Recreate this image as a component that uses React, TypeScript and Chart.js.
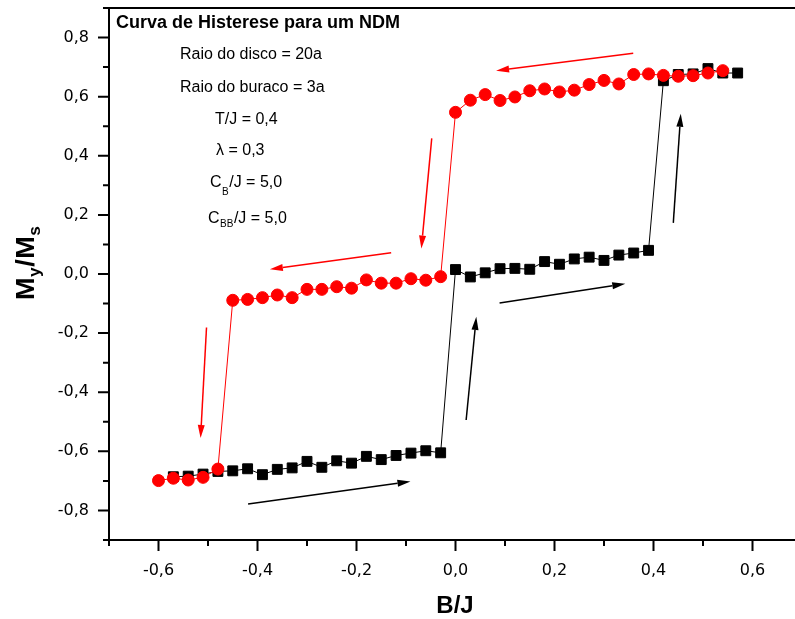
import React, { useEffect, useRef } from 'react';
import { Chart, registerables } from 'chart.js';

Chart.register(...registerables);

// Increasing field branch (black squares)
const upX = [
  -0.57, -0.54, -0.51, -0.48, -0.45, -0.42, -0.39, -0.36, -0.33, -0.30,
  -0.27, -0.24, -0.21, -0.18, -0.15, -0.12, -0.09, -0.06, -0.03, 0.00,
  0.03, 0.06, 0.09, 0.12, 0.15, 0.18, 0.21, 0.24, 0.27, 0.30,
  0.33, 0.36, 0.39, 0.42, 0.45, 0.48, 0.51, 0.54, 0.57,
];
const upY = [
  -0.686, -0.684, -0.677, -0.668, -0.666, -0.659, -0.679, -0.661, -0.656, -0.634,
  -0.654, -0.632, -0.640, -0.617, -0.628, -0.614, -0.606, -0.598, -0.605, 0.015,
  -0.010, 0.004, 0.018, 0.019, 0.016, 0.042, 0.033, 0.051, 0.057, 0.046,
  0.064, 0.071, 0.080, 0.654, 0.675, 0.677, 0.695, 0.680, 0.680,
];

// Decreasing field branch (red circles)
const downX = [
  0.54, 0.51, 0.48, 0.45, 0.42, 0.39, 0.36, 0.33, 0.30, 0.27,
  0.24, 0.21, 0.18, 0.15, 0.12, 0.09, 0.06, 0.03, 0.00, -0.03,
  -0.06, -0.09, -0.12, -0.15, -0.18, -0.21, -0.24, -0.27, -0.30, -0.33,
  -0.36, -0.39, -0.42, -0.45, -0.48, -0.51, -0.54, -0.57, -0.60,
];
const downY = [
  0.688, 0.680, 0.671, 0.669, 0.672, 0.677, 0.675, 0.643, 0.655, 0.641,
  0.622, 0.616, 0.626, 0.620, 0.599, 0.587, 0.607, 0.588, 0.547, -0.009,
  -0.021, -0.016, -0.031, -0.031, -0.020, -0.048, -0.043, -0.052, -0.052, -0.080,
  -0.071, -0.080, -0.086, -0.089, -0.660, -0.688, -0.697, -0.691, -0.699,
];

// Tick labels (major ticks)
const xTickValues = [-0.6, -0.4, -0.2, 0.0, 0.2, 0.4, 0.6];
const xTickLabels = ['-0,6', '-0,4', '-0,2', '0,0', '0,2', '0,4', '0,6'];
const yTickValues = [-0.8, -0.6, -0.4, -0.2, 0.0, 0.2, 0.4, 0.6, 0.8];
const yTickLabels = ['-0,8', '-0,6', '-0,4', '-0,2', '0,0', '0,2', '0,4', '0,6', '0,8'];

// Direction arrows in data coordinates: [x1, y1, x2, y2]
const redArrows = [
  [0.359, 0.747, 0.082, 0.688],
  [-0.048, 0.459, -0.069, 0.086],
  [-0.130, 0.072, -0.375, 0.016],
  [-0.503, -0.181, -0.515, -0.555],
];
const blackArrows = [
  [-0.419, -0.778, -0.091, -0.702],
  [0.0215, -0.494, 0.042, -0.145],
  [0.089, -0.098, 0.343, -0.033],
  [0.440, 0.173, 0.455, 0.542],
];

const SANS = '"Liberation Sans", Arial, sans-serif';

function lookup(values: number[], labels: string[], v: number) {
  for (let i = 0; i < values.length; i++) {
    if (Math.abs(values[i] - v) < 1e-6) return labels[i];
  }
  return '';
}

function drawArrow(ctx: CanvasRenderingContext2D, x1: number, y1: number, x2: number, y2: number, color: string) {
  const ang = Math.atan2(y2 - y1, x2 - x1);
  const L = 13;
  const W = 3.5;
  const bx = x2 - L * Math.cos(ang);
  const by = y2 - L * Math.sin(ang);
  ctx.strokeStyle = color;
  ctx.fillStyle = color;
  ctx.lineWidth = 1.5;
  ctx.beginPath();
  ctx.moveTo(x1, y1);
  ctx.lineTo(bx, by);
  ctx.stroke();
  ctx.beginPath();
  ctx.moveTo(x2, y2);
  ctx.lineTo(bx + W * Math.sin(ang), by - W * Math.cos(ang));
  ctx.lineTo(bx - W * Math.sin(ang), by + W * Math.cos(ang));
  ctx.closePath();
  ctx.fill();
}

const decorPlugin = {
  id: 'decor',
  afterDraw(chart: any) {
    const ctx: CanvasRenderingContext2D = chart.ctx;
    const { left, right, top, bottom } = chart.chartArea;
    const xs = chart.scales.x;
    const ys = chart.scales.y;
    ctx.save();
    // frame
    ctx.strokeStyle = '#000';
    ctx.lineWidth = 2;
    ctx.strokeRect(left, top, right - left, bottom - top);
    // tick marks
    ctx.lineWidth = 2;
    ctx.beginPath();
    xs.ticks.forEach((t: any) => {
      const k = Math.round(t.value * 10);
      const len = k % 2 === 0 ? 11 : 6;
      const px = xs.getPixelForValue(t.value);
      ctx.moveTo(px, bottom);
      ctx.lineTo(px, bottom + len);
    });
    ys.ticks.forEach((t: any) => {
      const k = Math.round(t.value * 10);
      const len = k % 2 === 0 ? 11 : 6;
      const py = ys.getPixelForValue(t.value);
      ctx.moveTo(left, py);
      ctx.lineTo(left - len, py);
    });
    ctx.stroke();

    // arrows
    redArrows.forEach((a) => {
      drawArrow(ctx, xs.getPixelForValue(a[0]), ys.getPixelForValue(a[1]), xs.getPixelForValue(a[2]), ys.getPixelForValue(a[3]), '#ff0000');
    });
    blackArrows.forEach((a) => {
      drawArrow(ctx, xs.getPixelForValue(a[0]), ys.getPixelForValue(a[1]), xs.getPixelForValue(a[2]), ys.getPixelForValue(a[3]), '#000000');
    });

    // annotation text
    ctx.fillStyle = '#000';
    ctx.textAlign = 'left';
    ctx.textBaseline = 'alphabetic';
    ctx.font = `bold 18px ${SANS}`;
    ctx.fillText('Curva de Histerese para um NDM', 116, 28);
    ctx.font = `16px ${SANS}`;
    ctx.fillText('Raio do disco = 20a', 180, 59);
    ctx.fillText('Raio do buraco = 3a', 180, 92);
    ctx.fillText('T/J = 0,4', 215, 124);
    ctx.fillText('\u03bb = 0,3', 216, 155);
    // C_B/J
    ctx.fillText('C', 210, 187);
    let w = ctx.measureText('C').width;
    ctx.font = `10px ${SANS}`;
    ctx.fillText('B', 210 + w + 0.5, 195);
    let wb = ctx.measureText('B').width;
    ctx.font = `16px ${SANS}`;
    ctx.fillText('/J = 5,0', 210 + w + wb + 1, 187);
    // C_BB/J
    ctx.fillText('C', 208, 222.5);
    w = ctx.measureText('C').width;
    ctx.font = `10px ${SANS}`;
    ctx.fillText('BB', 208 + w + 0.5, 227);
    wb = ctx.measureText('BB').width;
    ctx.font = `16px ${SANS}`;
    ctx.fillText('/J = 5,0', 208 + w + wb + 1, 222.5);

    // x title
    ctx.font = `bold 24px ${SANS}`;
    ctx.textAlign = 'center';
    ctx.fillText('B/J', (left + right) / 2 - 0.5, 613);

    // y title (rotated, with subscripts)
    ctx.save();
    ctx.translate(33.5, 300);
    ctx.rotate(-Math.PI / 2);
    ctx.scale(1.08, 1);
    ctx.textAlign = 'left';
    const parts: [string, number, number][] = [
      ['M', 0, 25],
      ['y', 6, 16],
      ['/', 0, 25],
      ['M', 0, 25],
      ['s', 6, 16],
    ];
    let u = 0;
    parts.forEach(([s, dy, size]) => {
      ctx.font = `bold ${size}px ${SANS}`;
      ctx.fillText(s, u, dy);
      u += ctx.measureText(s).width + 0.5;
    });
    ctx.restore();

    ctx.restore();
  },
};

export default function App() {
  const ref = useRef<HTMLCanvasElement | null>(null);

  useEffect(() => {
    if (!ref.current) return;
    const chart = new Chart(ref.current, {
      type: 'scatter',
      data: {
        datasets: [
          {
            label: 'decrescente',
            data: downX.map((x, i) => ({ x, y: downY[i] })),
            showLine: true,
            borderColor: '#ff0000',
            borderWidth: 1,
            backgroundColor: '#ff0000',
            pointStyle: 'circle',
            pointRadius: 6,
            pointBorderWidth: 1,
            pointBorderColor: '#ff0000',
            pointBackgroundColor: '#ff0000',
          },
          {
            label: 'crescente',
            data: upX.map((x, i) => ({ x, y: upY[i] })),
            showLine: true,
            borderColor: '#000000',
            borderWidth: 1,
            backgroundColor: '#000000',
            pointStyle: 'rect',
            pointRadius: 7,
            pointBorderWidth: 1,
            pointBorderColor: '#000000',
            pointBackgroundColor: '#000000',
          },
        ],
      },
      options: {
        responsive: false,
        animation: false,
        events: [],
        layout: { padding: { top: 7.5, right: 7, left: 0, bottom: 0 } },
        plugins: {
          legend: { display: false },
          tooltip: { enabled: false },
        },
        scales: {
          x: {
            type: 'linear',
            min: -0.7,
            max: 0.7,
            border: { display: false },
            grid: { display: false, drawTicks: false, tickLength: 0 },
            ticks: {
              stepSize: 0.1,
              autoSkip: false,
              maxRotation: 0,
              minRotation: 0,
              padding: 21,
              color: '#000',
              font: { family: '"DejaVu Sans", sans-serif', size: 16 },
              callback: (v: any) => lookup(xTickValues, xTickLabels, Number(v)),
            },
            afterFit: (s: any) => {
              s.height = 79;
              s.paddingLeft = 0;
              s.paddingRight = 0;
            },
          },
          y: {
            type: 'linear',
            min: -0.9,
            max: 0.9,
            border: { display: false },
            grid: { display: false, drawTicks: false, tickLength: 0 },
            ticks: {
              stepSize: 0.1,
              autoSkip: false,
              padding: 20,
              color: '#000',
              font: { family: '"DejaVu Sans", sans-serif', size: 16 },
              callback: (v: any) => lookup(yTickValues, yTickLabels, Number(v)),
            },
            afterFit: (s: any) => {
              s.width = 109;
              s.paddingTop = 0;
              s.paddingBottom = 0;
            },
          },
        },
      },
      plugins: [decorPlugin],
    });
    return () => chart.destroy();
  }, []);

  return (
    <div style={{ position: 'fixed', left: 0, top: 0, width: 795, height: 619, overflow: 'hidden', background: '#fff' }}>
      <canvas ref={ref} width={810} height={619} style={{ display: 'block', width: 810, height: 619 }} />
    </div>
  );
}
